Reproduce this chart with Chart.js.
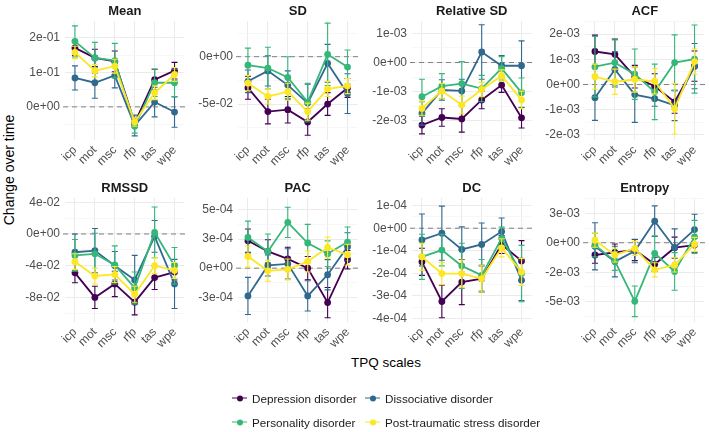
<!DOCTYPE html>
<html>
<head>
<meta charset="utf-8">
<script src="https://cdn.jsdelivr.net/npm/chart.js@4.4.0/dist/chart.umd.min.js"></script>
<style>
  body { margin: 0; background: #fff; font-family: "Liberation Sans", Arial, sans-serif; }
  #wrap { position: relative; width: 709px; height: 432px; overflow: hidden; }
  canvas.panel { position: absolute; }
  .axis-title { position: absolute; font-size: 13.5px; color: #000; white-space: nowrap; }
  #ytitle { left: 9px; top: 170px; transform: translate(-50%, -50%) rotate(-90deg); font-size: 14px; }
  #xtitle { left: 386px; top: 362px; transform: translate(-50%, -50%); }
  .leg { position: absolute; font-size: 11.7px; color: #1a1a1a; white-space: nowrap; transform: translateY(-50%); }
  .leg i { position: absolute; left: -20px; top: 50%; width: 15px; height: 1.6px; margin-top: -0.8px; }
  .leg b { position: absolute; left: -15.5px; top: 50%; width: 6px; height: 6px; margin-top: -3px; border-radius: 50%; }
</style>
</head>
<body>
<div id="wrap">
  <div id="ytitle" class="axis-title">Change over time</div>
  <div id="xtitle" class="axis-title">TPQ scales</div>
</div>
<script>
const categories = ["icp", "mot", "msc", "rfp", "tas", "wpe"];
const groups = ["Depression disorder", "Dissociative disorder", "Personality disorder", "Post-traumatic stress disorder"];
const groupColors = ["#440154", "#31688E", "#35B779", "#FDE725"];

// rows: Depression, Dissociative, Personality, PTSD
const meanValues = [
  [0.171, 0.142, 0.132, -0.046, 0.079, 0.105],
  [0.084, 0.070, 0.091, -0.054, 0.014, -0.015],
  [0.190, 0.142, 0.134, -0.056, 0.070, 0.070],
  [0.158, 0.105, 0.118, -0.044, 0.041, 0.094]
];
const meanErrors = [
  [0.022, 0.025, 0.030, 0.012, 0.030, 0.024],
  [0.035, 0.045, 0.036, 0.030, 0.043, 0.044],
  [0.045, 0.045, 0.050, 0.020, 0.040, 0.040],
  [0.018, 0.018, 0.020, 0.012, 0.020, 0.020]
];
const meanTicks = [0, 0.1, 0.2];
const meanTickLabels = ["0e+00", "1e-01", "2e-01"];

const sdValues = [
  [-0.033, -0.058, -0.056, -0.069, -0.050, -0.033],
  [-0.026, -0.015, -0.030, -0.049, -0.007, -0.039],
  [-0.009, -0.012, -0.022, -0.048, 0.0025, -0.011],
  [-0.028, -0.042, -0.037, -0.058, -0.034, -0.031]
];
const sdErrors = [
  [0.012, 0.013, 0.014, 0.014, 0.012, 0.010],
  [0.012, 0.016, 0.015, 0.020, 0.020, 0.021],
  [0.018, 0.022, 0.022, 0.020, 0.033, 0.018],
  [0.008, 0.008, 0.009, 0.009, 0.008, 0.008]
];
const sdTicks = [-0.05, 0];
const sdTickLabels = ["-5e-02", "0e+00"];

const relSdValues = [
  [-2.14e-3, -1.88e-3, -1.93e-3, -1.28e-3, -0.77e-3, -1.89e-3],
  [-1.74e-3, -0.94e-3, -0.97e-3, 0.36e-3, -0.11e-3, -0.11e-3],
  [-1.17e-3, -0.81e-3, -0.72e-3, -0.89e-3, -0.20e-3, -1.03e-3],
  [-1.57e-3, -0.97e-3, -1.45e-3, -0.92e-3, -0.45e-3, -1.28e-3]
];
const relSdErrors = [
  [0.30e-3, 0.30e-3, 0.45e-3, 0.30e-3, 0.25e-3, 0.35e-3],
  [0.40e-3, 0.35e-3, 0.40e-3, 0.93e-3, 0.35e-3, 0.85e-3],
  [0.60e-3, 0.43e-3, 0.75e-3, 0.45e-3, 0.40e-3, 0.50e-3],
  [0.25e-3, 0.25e-3, 0.30e-3, 0.25e-3, 0.20e-3, 0.30e-3]
];
const relSdTicks = [-2e-3, -1e-3, 0, 1e-3];
const relSdTickLabels = ["-2e-03", "-1e-03", "0e+00", "1e-03"];

const acfValues = [
  [1.31e-3, 1.20e-3, 0.31e-3, -0.07e-3, -0.69e-3, 0.73e-3],
  [-0.52e-3, 0.60e-3, -0.40e-3, -0.56e-3, -0.83e-3, 0.73e-3],
  [0.71e-3, 0.87e-3, 0.41e-3, -0.29e-3, 0.87e-3, 1.01e-3],
  [0.31e-3, 0.11e-3, 0.20e-3, 0.13e-3, -0.96e-3, 0.91e-3]
];
const acfErrors = [
  [0.65e-3, 0.60e-3, 0.45e-3, 0.50e-3, 0.45e-3, 0.60e-3],
  [0.90e-3, 0.70e-3, 1.10e-3, 0.30e-3, 0.60e-3, 0.90e-3],
  [1.20e-3, 0.90e-3, 1.00e-3, 1.10e-3, 1.10e-3, 1.35e-3],
  [0.50e-3, 0.50e-3, 0.50e-3, 0.50e-3, 1.00e-3, 0.50e-3]
];
const acfTicks = [-2e-3, -1e-3, 0, 1e-3, 2e-3];
const acfTickLabels = ["-2e-03", "-1e-03", "0e+00", "1e-03", "2e-03"];

const rmssdValues = [
  [-0.049, -0.080, -0.063, -0.086, -0.055, -0.048],
  [-0.023, -0.021, -0.040, -0.058, -0.003, -0.063],
  [-0.027, -0.025, -0.039, -0.068, 0.002, -0.040],
  [-0.035, -0.053, -0.051, -0.076, -0.040, -0.046]
];
const rmssdErrors = [
  [0.0125, 0.014, 0.016, 0.016, 0.015, 0.010],
  [0.023, 0.028, 0.018, 0.031, 0.020, 0.031],
  [0.020, 0.026, 0.024, 0.020, 0.032, 0.023],
  [0.010, 0.010, 0.010, 0.010, 0.010, 0.010]
];
const rmssdTicks = [-0.08, -0.04, 0, 0.04];
const rmssdTickLabels = ["-8e-02", "-4e-02", "0e+00", "4e-02"];

const pacValues = [
  [2.36e-4, 1.44e-4, 0.80e-4, 0, -2.96e-4, 0.72e-4],
  [-2.39e-4, 0.23e-4, 0.37e-4, -2.39e-4, -0.57e-4, 1.84e-4],
  [2.64e-4, 1.44e-4, 3.94e-4, 2.16e-4, 1.24e-4, 2.24e-4],
  [1.00e-4, -0.23e-4, -0.11e-4, 0.57e-4, 1.78e-4, 1.15e-4]
];
const pacErrors = [
  [1.0e-4, 1.0e-4, 1.0e-4, 1.0e-4, 1.3e-4, 0.8e-4],
  [1.6e-4, 0.9e-4, 1.3e-4, 1.3e-4, 1.3e-4, 1.2e-4],
  [1.4e-4, 1.5e-4, 1.3e-4, 1.6e-4, 1.1e-4, 1.3e-4],
  [0.9e-4, 0.9e-4, 0.9e-4, 0.9e-4, 0.9e-4, 0.9e-4]
];
const pacTicks = [-2.5e-4, 0, 2.5e-4, 5e-4];
const pacTickLabels = ["-3e-04", "0e+00", "3e-04", "5e-04"];

const dcValues = [
  [-1.49e-4, -3.25e-4, -2.39e-4, -2.24e-4, -0.72e-4, -1.45e-4],
  [-0.52e-4, -0.22e-4, -0.94e-4, -0.72e-4, -0.15e-4, -2.31e-4],
  [-1.27e-4, -0.97e-4, -1.67e-4, -2.09e-4, -0.45e-4, -2.01e-4],
  [-1.27e-4, -2.01e-4, -2.01e-4, -2.24e-4, -0.87e-4, -1.94e-4]
];
const dcErrors = [
  [0.60e-4, 0.72e-4, 1.00e-4, 0.60e-4, 0.40e-4, 0.90e-4],
  [1.15e-4, 1.20e-4, 1.00e-4, 0.95e-4, 0.60e-4, 0.90e-4],
  [1.00e-4, 0.70e-4, 1.00e-4, 0.70e-4, 0.50e-4, 1.25e-4],
  [0.60e-4, 0.50e-4, 0.60e-4, 0.60e-4, 0.40e-4, 0.60e-4]
];
const dcTicks = [-4e-4, -3e-4, -2e-4, -1e-4, 0, 1e-4];
const dcTickLabels = ["-4e-04", "-3e-04", "-2e-04", "-1e-04", "0e+00", "1e-04"];

const entropyValues = [
  [-1.04e-3, -0.81e-3, -0.62e-3, -1.83e-3, -0.42e-3, -0.20e-3],
  [-0.30e-3, -1.60e-3, -0.70e-3, 1.83e-3, -0.42e-3, 1.12e-3],
  [-0.20e-3, -1.55e-3, -4.97e-3, -0.90e-3, -2.44e-3, 0.50e-3],
  [0.22e-3, -1.04e-3, -0.48e-3, -2.30e-3, -1.88e-3, -0.14e-3]
];
const entropyErrors = [
  [0.7e-3, 0.7e-3, 0.9e-3, 0.6e-3, 0.9e-3, 0.6e-3],
  [2.0e-3, 1.3e-3, 1.0e-3, 1.3e-3, 1.6e-3, 1.3e-3],
  [1.0e-3, 0.8e-3, 1.3e-3, 1.5e-3, 1.6e-3, 1.4e-3],
  [0.6e-3, 0.6e-3, 0.6e-3, 0.6e-3, 0.6e-3, 0.6e-3]
];
const entropyTicks = [-5e-3, -2.5e-3, 0, 2.5e-3];
const entropyTickLabels = ["-5e-03", "-2e-03", "0e+00", "3e-03"];

// panel layout
const colLeft = [65, 238, 412, 585];
const rowTop = [0, 177];
const rowPlotHeight = [119, 124];
const yAxisW = 58, xAxisH = 35, padTop = 21, plotW = 120, padRight = 3;

const panels = [
  { title: "Mean", values: meanValues, errors: meanErrors, ticks: meanTicks, labels: meanTickLabels, min: -0.096, max: 0.249, col: 0, row: 0 },
  { title: "SD", values: sdValues, errors: sdErrors, ticks: sdTicks, labels: sdTickLabels, min: -0.088, max: 0.0377, col: 1, row: 0 },
  { title: "Relative SD", values: relSdValues, errors: relSdErrors, ticks: relSdTicks, labels: relSdTickLabels, min: -2.65e-3, max: 1.42e-3, col: 2, row: 0 },
  { title: "ACF", values: acfValues, errors: acfErrors, ticks: acfTicks, labels: acfTickLabels, min: -2.2e-3, max: 2.52e-3, col: 3, row: 0 },
  { title: "RMSSD", values: rmssdValues, errors: rmssdErrors, ticks: rmssdTicks, labels: rmssdTickLabels, min: -0.111, max: 0.0454, col: 0, row: 1 },
  { title: "PAC", values: pacValues, errors: pacErrors, ticks: pacTicks, labels: pacTickLabels, min: -4.63e-4, max: 6.03e-4, col: 1, row: 1 },
  { title: "DC", values: dcValues, errors: dcErrors, ticks: dcTicks, labels: dcTickLabels, min: -4.16e-4, max: 1.34e-4, col: 2, row: 1 },
  { title: "Entropy", values: entropyValues, errors: entropyErrors, ticks: entropyTicks, labels: entropyTickLabels, min: -6.73e-3, max: 3.8e-3, col: 3, row: 1 }
];

const tickFont = { family: "'Liberation Sans', Arial, sans-serif", size: 12 };

// error bars, drawn just before each series' line and points
const errorBars = {
  id: "errorBars",
  beforeDatasetDraw(chart, args) {
    const ds = chart.data.datasets[args.index];
    const y = chart.scales.y;
    const ctx = chart.ctx;
    ctx.save();
    ctx.strokeStyle = ds.borderColor;
    ctx.lineWidth = 1.1;
    args.meta.data.forEach((pt, i) => {
      const v = ds.data[i], e = ds.errors[i];
      const top = y.getPixelForValue(v + e), bot = y.getPixelForValue(v - e);
      ctx.beginPath();
      ctx.moveTo(pt.x, top); ctx.lineTo(pt.x, bot);
      ctx.moveTo(pt.x - 3, top); ctx.lineTo(pt.x + 3, top);
      ctx.moveTo(pt.x - 3, bot); ctx.lineTo(pt.x + 3, bot);
      ctx.stroke();
    });
    ctx.restore();
  }
};

// dashed reference line at zero
const zeroLine = {
  id: "zeroLine",
  beforeDatasetsDraw(chart) {
    const { ctx, chartArea } = chart;
    const y0 = chart.scales.y.getPixelForValue(0);
    ctx.save();
    ctx.strokeStyle = "#808080";
    ctx.lineWidth = 1;
    ctx.setLineDash([5, 4]);
    ctx.beginPath();
    ctx.moveTo(chartArea.left - 2, y0);
    ctx.lineTo(chartArea.right + 2, y0);
    ctx.stroke();
    ctx.restore();
  }
};

// facet strip title centred over the plot area
const panelTitle = {
  id: "panelTitle",
  afterDraw(chart, args, opts) {
    const { ctx, chartArea } = chart;
    ctx.save();
    ctx.font = "bold 13px 'Liberation Sans', Arial, sans-serif";
    ctx.fillStyle = "#1a1a1a";
    ctx.textAlign = "center";
    ctx.textBaseline = "middle";
    ctx.fillText(opts.text, (chartArea.left + chartArea.right) / 2, chartArea.top - 10);
    ctx.restore();
  }
};

const wrap = document.getElementById("wrap");

panels.forEach(p => {
  const canvas = document.createElement("canvas");
  canvas.className = "panel";
  const w = yAxisW + plotW + padRight;
  const h = padTop + rowPlotHeight[p.row] + xAxisH;
  canvas.width = w; canvas.height = h;
  canvas.style.left = (colLeft[p.col] - yAxisW) + "px";
  canvas.style.top = rowTop[p.row] + "px";
  wrap.appendChild(canvas);

  // minor breaks halfway between the major ones
  const step = p.ticks[1] - p.ticks[0];
  const minor = [];
  for (let i = -1; i < p.ticks.length; i++) {
    const m = p.ticks[0] + (i + 0.5) * step;
    if (m > p.min && m < p.max) minor.push(m);
  }
  const isMajor = v => p.ticks.some(t => Math.abs(t - v) < step * 1e-6);
  const labelFor = v => {
    const idx = p.ticks.findIndex(t => Math.abs(t - v) < step * 1e-6);
    return idx >= 0 ? p.labels[idx] : "";
  };

  new Chart(canvas, {
    type: "line",
    data: {
      labels: categories,
      datasets: groups.map((g, gi) => ({
        label: g,
        data: p.values[gi],
        errors: p.errors[gi],
        borderColor: groupColors[gi],
        backgroundColor: groupColors[gi],
        borderWidth: 1.8,
        pointRadius: 3.4,
        pointBorderWidth: 0,
        pointHoverRadius: 3.4,
        tension: 0,
        order: groups.length - 1 - gi
      }))
    },
    options: {
      responsive: false,
      animation: false,
      events: [],
      layout: { padding: { top: padTop, right: padRight, left: 0, bottom: 0 } },
      plugins: {
        legend: { display: false },
        tooltip: { enabled: false },
        panelTitle: { text: p.title }
      },
      scales: {
        x: {
          offset: true,
          border: { display: false },
          grid: { color: "#EBEBEB", lineWidth: 1, drawTicks: false, offset: false },
          ticks: { font: tickFont, color: "#4D4D4D", minRotation: 45, maxRotation: 45, padding: 3, autoSkip: false },
          afterFit: s => { s.height = xAxisH; }
        },
        y: {
          min: p.min,
          max: p.max,
          border: { display: false },
          afterBuildTicks: s => {
            s.ticks = p.ticks.concat(minor).sort((a, b) => a - b).map(v => ({ value: v }));
          },
          grid: {
            drawTicks: false,
            color: c => isMajor(c.tick.value) ? "#EBEBEB" : "#F4F4F4",
            lineWidth: c => isMajor(c.tick.value) ? 1 : 0.7
          },
          ticks: {
            font: tickFont,
            color: "#4D4D4D",
            padding: 5,
            autoSkip: false,
            callback: v => labelFor(v)
          },
          afterFit: s => { s.width = yAxisW; }
        }
      }
    },
    plugins: [zeroLine, errorBars, panelTitle]
  });
});

// legend
const legendPos = [[252, 398], [385, 398], [252, 422], [385, 422]];
groups.forEach((g, gi) => {
  const el = document.createElement("div");
  el.className = "leg";
  el.style.left = legendPos[gi][0] + "px";
  el.style.top = legendPos[gi][1] + "px";
  el.innerHTML = '<i style="background:' + groupColors[gi] + '"></i><b style="background:' + groupColors[gi] + '"></b>' + g;
  wrap.appendChild(el);
});
</script>
</body>
</html>
